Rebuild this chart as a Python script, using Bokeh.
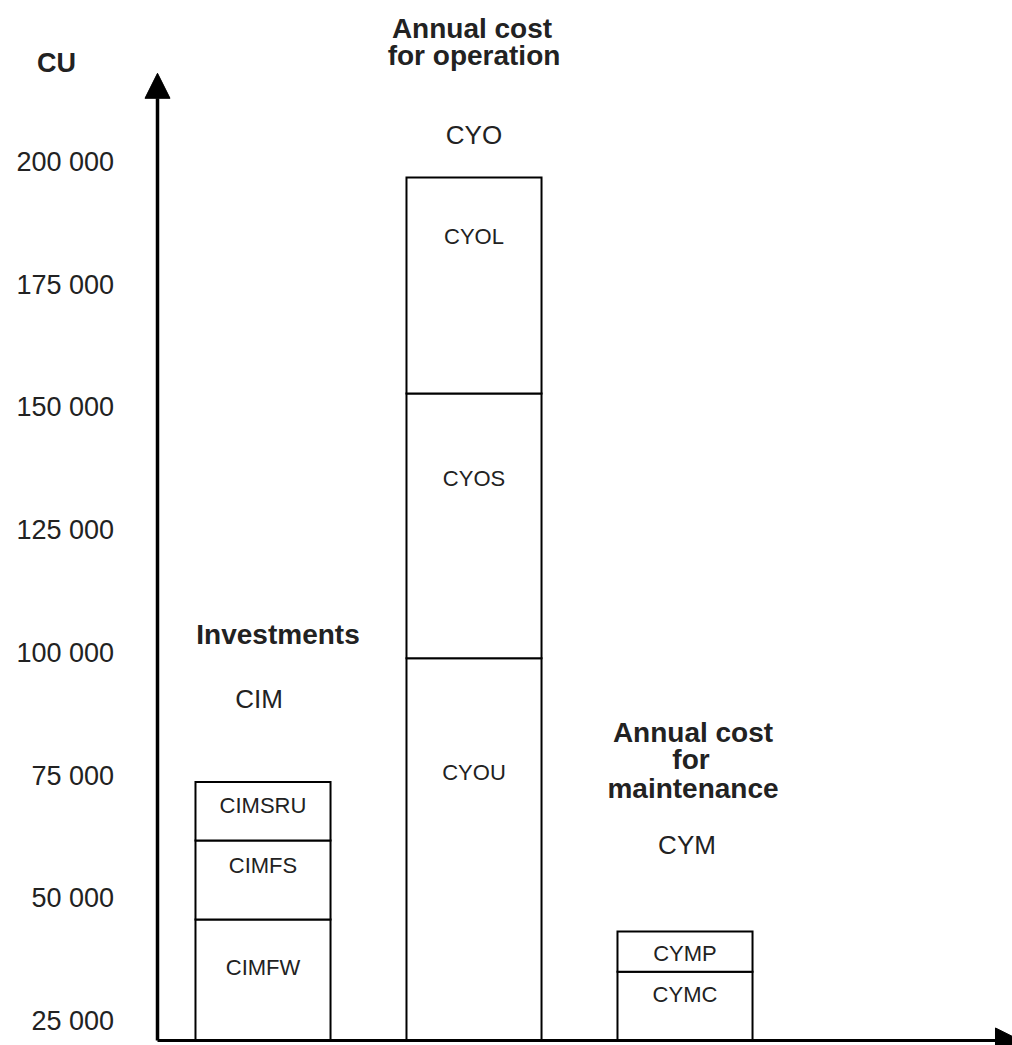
from bokeh.plotting import figure
from bokeh.models import Range1d, Arrow, NormalHead, ColumnDataSource
from bokeh.core.properties import value
from bokeh.embed import file_html
from bokeh.resources import INLINE

# ---------------- data ----------------
categories = ["CIM", "CYO", "CYM"]
segment_names = [["CIMFW", "CIMFS", "CIMSRU"],
                 ["CYOU", "CYOS", "CYOL"],
                 ["CYMC", "CYMP"]]
segment_tops = [[45700, 61800, 73700],
                [98900, 152800, 196800],
                [35100, 43300]]
headings = [["Investments"],
            ["Annual cost", "for operation"],
            ["Annual cost", "for", "maintenance"]]
tick_values = [25000, 50000, 75000, 100000, 125000, 150000, 175000, 200000]
tick_labels = ["25 000", "50 000", "75 000", "100 000", "125 000", "150 000", "175 000", "200 000"]
axis_origin = 21100
axis_top = 218000
unit_label = "CU"

# ---------------- layout / style (pixel offsets) ----------------
seg_label_dy = [[48, 25, 23.5], [114, 84.5, 59], [23, 22.3]]
heading_dxy = [[(15, -147.5)], [(-2, -149), (0, -122)], [(8, -199), (6, -172), (8, -143)]]
code_dxy = [(-4, -83.5), (0, -42), (2, -86)]
AXIS_X = 0.5
BAR_W = 0.64
FONT = "Liberation Sans"
TXT = "#222222"

p = figure(width=1012, height=1045,
           x_range=Range1d(-0.2441, 4.5521), y_range=Range1d(20073, 232818),
           output_backend="svg", toolbar_location=None,
           x_axis_type=None, y_axis_type=None,
           min_border_left=0, min_border_right=0, min_border_top=0, min_border_bottom=0)
p.outline_line_color = None
p.background_fill_color = "white"
p.border_fill_color = "white"

# tick labels (value axis)
p.text(x=[AXIS_X] * len(tick_values), y=tick_values, text=tick_labels, x_offset=-43.5,
       text_font=value(FONT), text_font_size=value("27px"), text_color=TXT,
       text_align="right", text_baseline="middle")

# bars
L, R, B, T = [], [], [], []
sx, sy, stxt, sdy = [], [], [], []
for i, cat in enumerate(categories):
    cx = i + 1
    prev = axis_origin
    for j, (name, top) in enumerate(zip(segment_names[i], segment_tops[i])):
        L.append(cx - BAR_W / 2); R.append(cx + BAR_W / 2); B.append(prev); T.append(top)
        sx.append(cx); sy.append(top); stxt.append(name); sdy.append(seg_label_dy[i][j])
        prev = top

p.quad(left=L, right=R, bottom=B, top=T, fill_color="white", line_color="black",
       line_width=2, line_join="miter")

seg_src = ColumnDataSource(dict(x=sx, y=sy, text=stxt, dy=sdy))
p.text(x="x", y="y", text="text", y_offset="dy", source=seg_src,
       text_font=value(FONT), text_font_size=value("22px"), text_color=TXT,
       text_align="center", text_baseline="middle")

# headings and codes
hx, hy, ht, hdx, hdy = [], [], [], [], []
cx_, cy_, ct, cdx, cdy = [], [], [], [], []
for i, cat in enumerate(categories):
    top = segment_tops[i][-1]
    for line, (dx, dy) in zip(headings[i], heading_dxy[i]):
        hx.append(i + 1); hy.append(top); ht.append(line); hdx.append(dx); hdy.append(dy)
    cx_.append(i + 1); cy_.append(top); ct.append(cat)
    cdx.append(code_dxy[i][0]); cdy.append(code_dxy[i][1])

p.text(x="x", y="y", text="text", x_offset="dx", y_offset="dy",
       source=ColumnDataSource(dict(x=hx, y=hy, text=ht, dx=hdx, dy=hdy)),
       text_font=value(FONT), text_font_size=value("28px"), text_font_style="bold",
       text_color=TXT, text_align="center", text_baseline="middle")
p.text(x="x", y="y", text="text", x_offset="dx", y_offset="dy",
       source=ColumnDataSource(dict(x=cx_, y=cy_, text=ct, dx=cdx, dy=cdy)),
       text_font=value(FONT), text_font_size=value("26px"),
       text_color=TXT, text_align="center", text_baseline="middle")

# axes arrows
p.add_layout(Arrow(end=NormalHead(size=25, fill_color="black", line_color="black"),
                   x_start=AXIS_X, y_start=axis_origin, x_end=AXIS_X, y_end=axis_top,
                   line_width=3.5, line_color="black"))
p.add_layout(Arrow(end=NormalHead(size=25, fill_color="black", line_color="black"),
                   x_start=AXIS_X, y_start=axis_origin, x_end=4.59, y_end=axis_origin,
                   line_width=3, line_color="black"))

# unit label
p.text(x=[AXIS_X], y=[axis_top], text=[unit_label], x_offset=-101, y_offset=-10,
       text_font=value(FONT), text_font_size=value("27px"), text_font_style="bold",
       text_color=TXT, text_align="center", text_baseline="middle")

open("out.html", "w").write(file_html(p, INLINE))
